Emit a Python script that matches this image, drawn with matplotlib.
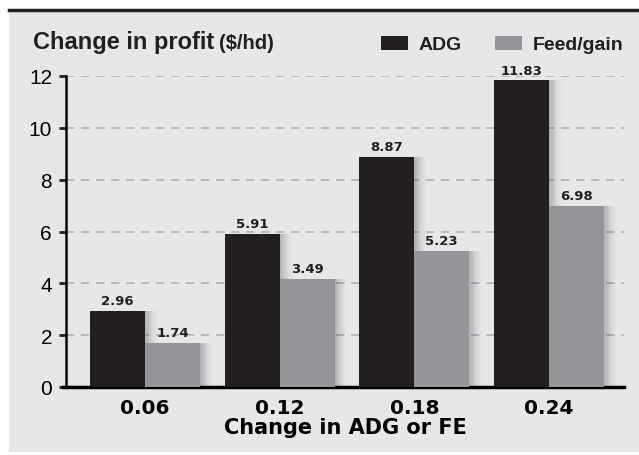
import numpy as np
import matplotlib
matplotlib.use("Agg")
import matplotlib.pyplot as plt
from matplotlib.patches import Rectangle

plt.rcParams['font.family'] = ['Liberation Sans', 'DejaVu Sans']

groups = ['0.06', '0.12', '0.18', '0.24']
adg = [2.93, 5.91, 8.87, 11.83]
feed_gain = [1.70, 4.18, 5.26, 6.98]
adg_labels = ['2.96', '5.91', '8.87', '11.83']
fg_labels = ['1.74', '3.49', '5.23', '6.98']

c_adg = '#231f20'
c_fg = '#939598'
bg = '#e6e7e8'
W, H = 639, 456

fig = plt.figure(figsize=(6.39, 4.56), dpi=100)
fig.patch.set_facecolor('white')

# grey panel and top rule
fig.patches.append(Rectangle((9/W, 3/H), 1, 440/H, transform=fig.transFigure,
                             facecolor=bg, edgecolor='none', zorder=-10))
fig.add_artist(plt.Line2D([9/W, 1], [445/H, 445/H], color=c_adg, lw=2.5))

ax = fig.add_axes([66/W, 68/H, 558/W, 311/H])
ax.set_facecolor('none')

x = np.arange(len(groups))
w = 0.408

# soft shadow to the right of the bars
n = 12
for k in range(n):
    off = 0.009 * (k + 1)
    a = 0.035 * (1 - k / n)
    ax.bar(x - w/2 + off, adg, w, color='black', alpha=a, zorder=1, lw=0)
    ax.bar(x + w/2 + off, feed_gain, w, color='black', alpha=a, zorder=1, lw=0)

ax.bar(x - w/2, adg, w, color=c_adg, zorder=3)
ax.bar(x + w/2, feed_gain, w, color=c_fg, zorder=3)

for i in range(len(groups)):
    ax.text(x[i] - w/2, adg[i] + 0.15, adg_labels[i], ha='center', va='bottom',
            fontsize=9.5, fontweight='bold', family='DejaVu Sans', color=c_adg)
    ax.text(x[i] + w/2, feed_gain[i] + 0.15, fg_labels[i], ha='center', va='bottom',
            fontsize=9.5, fontweight='bold', family='DejaVu Sans', color=c_adg)

ax.set_xlim(-0.586, 3.557)
ax.set_ylim(0, 12)
ax.set_yticks(range(0, 13, 2))
ax.yaxis.grid(True, linestyle=(0, (5, 4)), color='#b1b3b6', lw=1.2)
ax.set_axisbelow(True)
ax.tick_params(axis='y', labelsize=15, length=5, width=2, color=c_adg, pad=5)
ax.tick_params(axis='x', length=0, pad=8)
ax.set_xticks(x)
ax.set_xticklabels(groups, fontsize=14.5, fontweight='bold', family='DejaVu Sans')
ax.set_xlabel('Change in ADG or FE', fontsize=15, fontweight='bold',
              family='DejaVu Sans', labelpad=0)

for s in ['top', 'right']:
    ax.spines[s].set_visible(False)
ax.spines['left'].set_linewidth(1.8)
ax.spines['bottom'].set_linewidth(2.5)
ax.spines['bottom'].set_bounds(-0.61, 3.557)

# title
t1 = fig.text(33/W, 1 - 49/H, 'Change in profit', fontsize=17, fontweight='bold',
              va='baseline', color=c_adg)
fig.canvas.draw()
bb = t1.get_window_extent()
fig.text((bb.x1 + 5) / W, 1 - 49/H, '($/hd)', fontsize=14.5, fontweight='bold',
         va='baseline', color=c_adg)

# legend
leg_items = [('ADG', c_adg, 381), ('Feed/gain', c_fg, 495)]
for name, col, x0 in leg_items:
    fig.patches.append(Rectangle((x0/W, 1 - 51/H), 27/W, 14/H, transform=fig.transFigure,
                                 facecolor=col, edgecolor='none'))
    fig.text((x0 + 38)/W, 1 - 50/H, name, fontsize=14, fontweight='bold',
             va='baseline', color=c_adg)

fig.savefig('out.png', dpi=100, facecolor=fig.get_facecolor())
